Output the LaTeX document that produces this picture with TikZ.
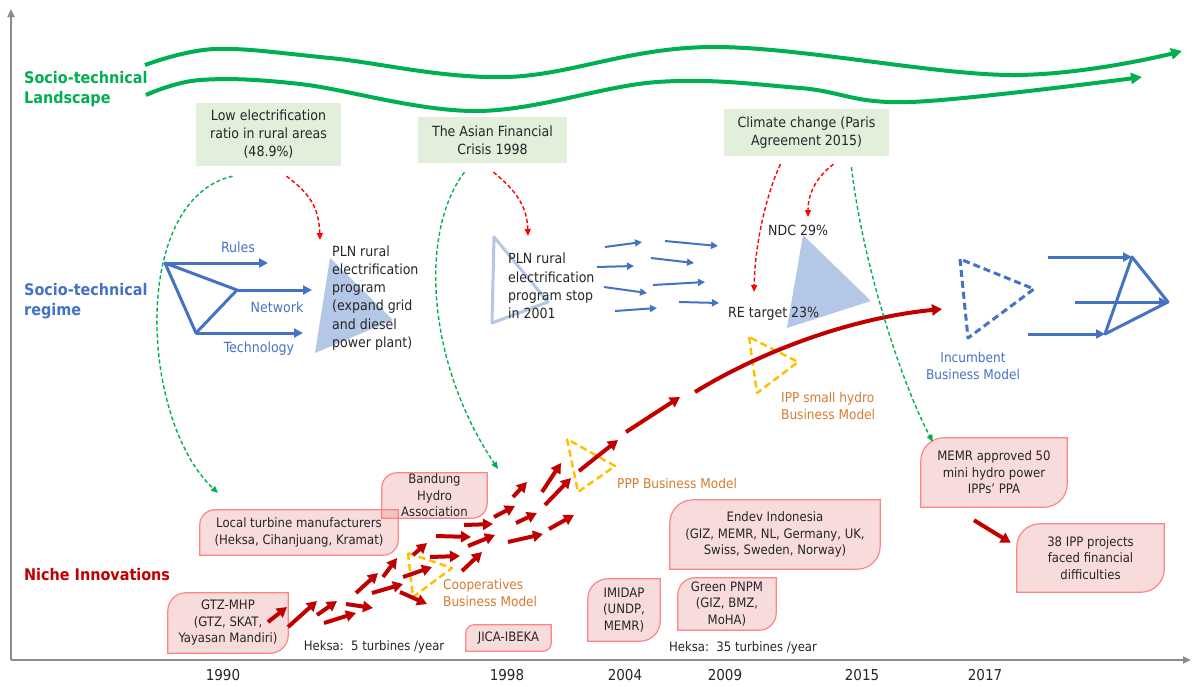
\documentclass[tikz,border=0pt]{standalone}
\usepackage{fontspec}
\setmainfont{DejaVu Sans Condensed}
\usetikzlibrary{arrows.meta,positioning,calc}
\pgfdeclarelayer{bg}
\pgfsetlayers{bg,main}

\definecolor{landgreen}{HTML}{00B050}
\definecolor{regblue}{HTML}{4472C4}
\definecolor{nichered}{HTML}{C00000}
\definecolor{boxgreen}{HTML}{E2EFDA}
\definecolor{paleblue}{HTML}{B4C7E7}
\definecolor{bmorange}{HTML}{D77B2E}
\definecolor{bmyellow}{HTML}{FFC000}
\definecolor{pinkbase}{HTML}{E88A8A}
\definecolor{pinkline}{HTML}{FF8585}
\definecolor{axisgray}{HTML}{8C8C8C}
\definecolor{txt}{HTML}{262626}

% niche box: rounded top left and bottom right corners
\newcommand{\nicheshape}[2]{%
  \begin{pgfonlayer}{bg}
    \draw[pinkline, line width=1.2pt, fill=pinkbase, fill opacity=.3]
      (#1.south west) -- ([yshift=-#2pt]#1.north west)
      arc[start angle=180, end angle=90, radius=#2pt] -- (#1.north east)
      -- ([yshift=#2pt]#1.south east)
      arc[start angle=0, end angle=-90, radius=#2pt] -- cycle;
  \end{pgfonlayer}}

\begin{document}
\begin{tikzpicture}[x = 1pt, y = -1pt,
  every node/.style={font = \fontsize{13}{16.5}\selectfont, text = txt},
  level/.style={font = \bfseries\fontsize{16}{20}\selectfont, align = left, anchor = west, inner sep = 0pt},
  year/.style={font = \fontsize{15}{18}\selectfont},
  landbox/.style={fill = boxgreen, align = center, inner sep = 0pt, font = \fontsize{14}{18}\selectfont},
  nichebox/.style={align = center, inner sep = 0pt},
  regtext/.style={font = \fontsize{14}{18.2}\selectfont, align = left, anchor = west, inner sep = 0pt},
  reglabel/.style={font = \fontsize{14}{17}\selectfont, text = regblue, inner sep = 0pt},
  bmlabel/.style={font = \fontsize{13.5}{17.5}\selectfont, text = bmorange, align = left, anchor = west, inner sep = 0pt},
  axis/.style={axisgray, line width = 2pt, -{Triangle[length = 8pt, width = 7pt]}},
  landline/.style={landgreen, line width = 4pt, -{Triangle[length = 11pt, width = 11pt]}},
  regline/.style={regblue, line width = 3pt, line join = round},
  regarrow/.style={regblue, line width = 3pt, -{Triangle[length = 9pt, width = 9pt]}},
  smallarrow/.style={regblue, line width = 2pt, -{Triangle[length = 7pt, width = 7pt]}},
  nichearrow/.style={nichered, line width = 4pt, -{Triangle[length = 10pt, width = 11pt]}},
  influence/.style={line width = 1.4pt, dash pattern = on 4pt off 2.5pt, -{Triangle[length = 7pt, width = 6pt]}},
  bmtri/.style={bmyellow, line width = 2.5pt, dash pattern = on 7pt off 4pt, line join = round}]
\useasboundingbox (0,0) rectangle (1192,686);

% axes
\coordinate (origin) at (11,660);
\coordinate (ytop) at (11,9);
\coordinate (xend) at (1191,660);
\draw[axis] (origin) -- (ytop);
\draw[axis] (origin) -- (xend);
\node[year] (y1990) at (223,675) {1990};
\node[year] (y1998) at (507,675) {1998};
\node[year] (y2004) at (625,675) {2004};
\node[year] (y2009) at (725,675) {2009};
\node[year] (y2015) at (862,675) {2015};
\node[year] (y2017) at (985,675) {2017};

% levels
\node[level, text = landgreen] (landlbl) at (24,89) {Socio-technical\\Landscape};
\node[level, text = regblue] (reglbl) at (24,301) {Socio-technical\\regime};
\node[level, text = nichered] (nichelbl) at (24,575) {Niche Innovations};

% landscape
\draw[landline] plot[smooth, tension = .6] coordinates {(145,65) (215,49) (330,58) (507,77) (713,47) (1010,75) (1182,51)};
\draw[landline] plot[smooth, tension = .6] coordinates {(146,95) (200,80) (300,84) (477,111) (657,82) (800,88) (910,102) (1142,77)};
\node[landbox, minimum width = 145, minimum height = 63] (lowelec) at (268.5,134.5) {Low electrification\\ratio in rural areas\\(48.9\%)};
\node[landbox, minimum width = 149, minimum height = 46] (crisis) at (492.5,140) {The Asian Financial\\Crisis 1998};
\node[landbox, minimum width = 165, minimum height = 47] (paris) at (806.5,132.5) {Climate change (Paris\\Agreement 2015)};

% regime, 1990
\coordinate (ra) at (165,263);
\coordinate (rb) at (237,290);
\coordinate (rc) at (196,333);
\coordinate (rulesend) at (268,263);
\coordinate (netend) at (312,290);
\coordinate (techend) at (303,333);
\draw[regline] (ra) -- (rb) -- (rc) -- cycle;
\draw[regarrow] (ra) -- (rulesend);
\draw[regarrow] (rb) -- (netend);
\draw[regarrow] (rc) -- (techend);
\node[reglabel] (rules) at (238,247) {Rules};
\node[reglabel] (network) at (277,307) {Network};
\node[reglabel] (technology) at (259,349) {Technology};
\fill[paleblue] (330,258) -- (315,353) -- (393,320) -- cycle;
\node[regtext] (pln) at (332,298) {PLN rural\\electrification\\program\\(expand grid\\and diesel\\power plant)};

% regime, 2001
\draw[paleblue, line width = 3pt, line join = round] (494,237) -- (492,323) -- (548,302) -- cycle;
\node[regtext] (plnstop) at (508,286) {PLN rural\\electrification\\program stop\\in 2001};
\foreach \sx/\sy/\ex/\ey in {605/247/642/242, 665/241/718/246, 597/267/634/266, 651/258/694/263,
    604/287/647/293, 653/285/705/282, 615/311/657/308, 679/302/719/303}
  \draw[smallarrow] (\sx,\sy) -- (\ex,\ey);

% regime, 2015
\fill[paleblue] (803,235) -- (787,328) -- (871,301) -- cycle;
\node[regtext] (ndc) at (768,230) {NDC 29\%};
\node[regtext] (retarget) at (728,314) {RE target 23\%};

% incumbent
\draw[regline, dash pattern = on 7pt off 4pt] (960,259) -- (968,338) -- (1034,289) -- cycle;
\node[bmlabel, text = regblue, anchor = center, align = center] (incumbent) at (973,366) {Incumbent\\Business Model};
\coordinate (p1) at (1132,257);
\coordinate (p2) at (1168,302);
\coordinate (p3) at (1105,334);
\coordinate (q1) at (1048,257);
\coordinate (q2) at (1075,302);
\coordinate (q3) at (1028,334);
\draw[regarrow] (q1) -- (p1);
\draw[regarrow] (q2) -- (p2);
\draw[regarrow] (q3) -- (p3);
\draw[regline] (p1) -- (p2) -- (p3) -- cycle;

% niche boxes
\node[nichebox, minimum width = 120, minimum height = 60] (gtz) at (228,623) {GTZ-MHP\\(GTZ, SKAT,\\Yayasan Mandiri)};
\node[nichebox, minimum width = 198, minimum height = 45] (local) at (299,532.5) {Local turbine manufacturers\\(Heksa, Cihanjuang, Kramat)};
\node[nichebox, minimum width = 105, minimum height = 45] (bandung) at (434.5,495.5) {Bandung\\Hydro\\Association};
\node[nichebox, minimum width = 85, minimum height = 26] (jica) at (508.5,638) {JICA-IBEKA};
\node[nichebox, minimum width = 72, minimum height = 62] (imidap) at (624,610) {IMIDAP\\(UNDP,\\MEMR)};
\node[nichebox, minimum width = 98, minimum height = 52] (pnpm) at (727,604) {Green PNPM\\(GIZ, BMZ,\\MoHA)};
\node[nichebox, minimum width = 210, minimum height = 69] (endev) at (775,534.5) {Endev Indonesia\\(GIZ, MEMR, NL, Germany, UK,\\Swiss, Sweden, Norway)};
\node[nichebox, minimum width = 146, minimum height = 69] (memr) at (994,472.5) {MEMR approved 50\\mini hydro power\\IPPs’ PPA};
\node[nichebox, minimum width = 147, minimum height = 68] (ipp38) at (1090.5,558) {38 IPP projects\\faced financial\\difficulties};
\nicheshape{gtz}{18}
\nicheshape{local}{15}
\nicheshape{bandung}{15}
\nicheshape{jica}{8}
\nicheshape{imidap}{20}
\nicheshape{pnpm}{17}
\nicheshape{endev}{23}
\nicheshape{memr}{23}
\nicheshape{ipp38}{23}
\node (heksa5) at (374,647) {Heksa:\ \ 5 turbines /year};
\node (heksa35) at (743,648) {Heksa:\ \ 35 turbines /year};

% business models
\draw[bmtri] (408,553) -- (413,597) -- (452,568) -- cycle;
\draw[bmtri] (567,439) -- (578,492) -- (615,466) -- cycle;
\draw[bmtri] (749,337) -- (757,393) -- (798,362) -- cycle;
\node[bmlabel] (coop) at (443,593) {Cooperatives\\Business Model};
\node[bmlabel] (ppp) at (617,483) {PPP Business Model};
\node[bmlabel] (ipp) at (781,406) {IPP small hydro\\Business Model};

% niche momentum
\foreach \sx/\sy/\ex/\ey in {268/622/287/607, 288/627/317/601, 317/615/337/601, 324/623/356/613,
    346/604/373/608, 356/593/378/573, 372/593/403/584, 383/577/397/558, 400/592/427/604,
    403/577/432/567, 413/555/427/543, 430/557/460/556, 436/536/471/537, 462/571/482/552,
    464/525/493/524, 468/546/495/535, 494/517/515/506, 508/542/543/534, 513/497/527/482,
    516/523/537/513, 542/492/561/463, 545/505/571/478, 549/529/574/515, 579/471/618/440,
    626/432/680/397}
  \draw[nichearrow] (\sx,\sy) -- (\ex,\ey);
\coordinate (restart) at (695,392);
\coordinate (reend) at (942,309);
\draw[nichearrow] (restart) .. controls (760,352) and (850,318) .. (reend);
\draw[nichearrow] ([shift={(-20,13)}]memr.south) -- ([shift={(-6,19)}]ipp38.north west);

% landscape pressure
\coordinate (g1end) at (218,493);
\coordinate (r1end) at (320,240);
\coordinate (g2end) at (498,469);
\coordinate (r2end) at (528,236);
\coordinate (r3end) at (754,292);
\coordinate (r4end) at (808,217);
\draw[influence, landgreen] ([shift={(-36,10)}]lowelec.south) .. controls (130,200) and (140,420) .. (g1end);
\draw[influence, red] ([shift={(18,10)}]lowelec.south) .. controls (312,195) and (319,210) .. (r1end);
\draw[influence, landgreen] ([shift={(-28,9)}]crisis.south) .. controls (420,230) and (425,360) .. (g2end);
\draw[influence, red] ([shift={(1,9)}]crisis.south) .. controls (515,190) and (527,205) .. (r2end);
\draw[influence, red] ([shift={(-26,8)}]paris.south) .. controls (768,190) and (755,240) .. (r3end);
\draw[influence, red] ([shift={(27,8)}]paris.south) .. controls (815,178) and (808,195) .. (r4end);
\draw[influence, landgreen] ([shift={(45,11)}]paris.south) .. controls (862,260) and (900,380) .. ([shift={(12,4)}]memr.north west);
\end{tikzpicture}
\end{document}
